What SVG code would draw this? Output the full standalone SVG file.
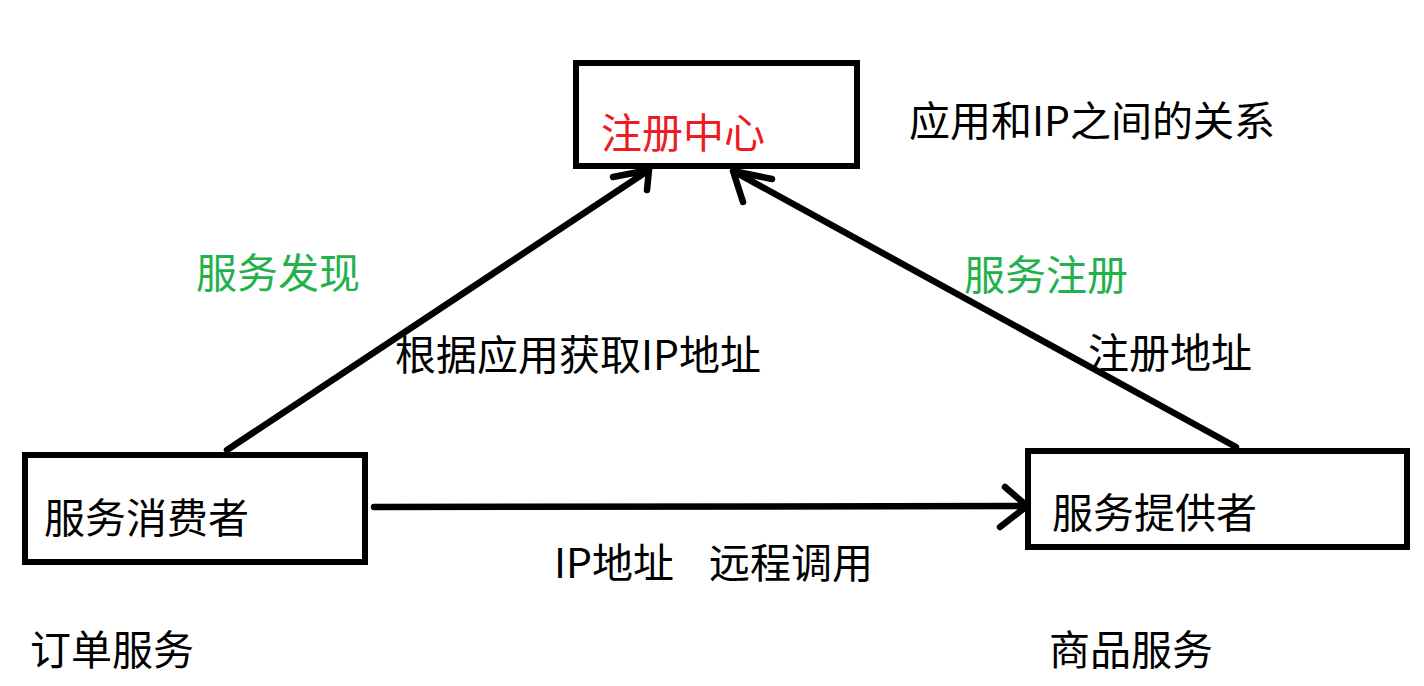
<svg xmlns="http://www.w3.org/2000/svg" width="1424" height="686" viewBox="0 0 1424 686">
<style>
.box{fill:#fff;stroke:#000;stroke-width:6}
.ln{fill:none;stroke:#000;stroke-width:6.5;stroke-linecap:round;stroke-linejoin:round}
.t{font-family:"Microsoft YaHei","Noto Sans CJK SC","Noto Sans",sans-serif;font-size:41px;fill:#000}
.red{fill:#ed1c24}
.green{fill:#22b14c}
</style>
<rect width="1424" height="686" fill="#fff"/>
<g id="registry">
<rect class="box" x="576" y="63" width="281" height="103"/>
<text class="t red" x="601" y="148">注册中心</text>
</g>
<g id="consumer">
<rect class="box" x="25" y="455" width="340" height="107"/>
<text class="t" x="44" y="533">服务消费者</text>
</g>
<g id="provider">
<rect class="box" x="1028" y="451" width="379" height="96"/>
<text class="t" x="1052" y="528">服务提供者</text>
</g>
<g id="connectors">
<path class="ln" d="M227 450 L649 170 M613 177 L649 170 L647 190"/>
<path class="ln" d="M1236 447 L733 171 M772 179 L733 171 L743 202"/>
<path class="ln" d="M374 507 L1027 506 M1005 487 L1027 506 L1000 527"/>
</g>
<g id="labels">
<text class="t" x="909" y="136">应用和IP之间的关系</text>
<text class="t green" x="196" y="288">服务发现</text>
<text class="t" x="395" y="370">根据应用获取IP地址</text>
<text class="t green" x="964" y="290">服务注册</text>
<text class="t" x="1088" y="368">注册地址</text>
<text class="t" y="578"><tspan x="554">IP地址</tspan><tspan x="709">远程调用</tspan></text>
<text class="t" x="30" y="665">订单服务</text>
<text class="t" x="1049" y="665">商品服务</text>
</g>
</svg>
